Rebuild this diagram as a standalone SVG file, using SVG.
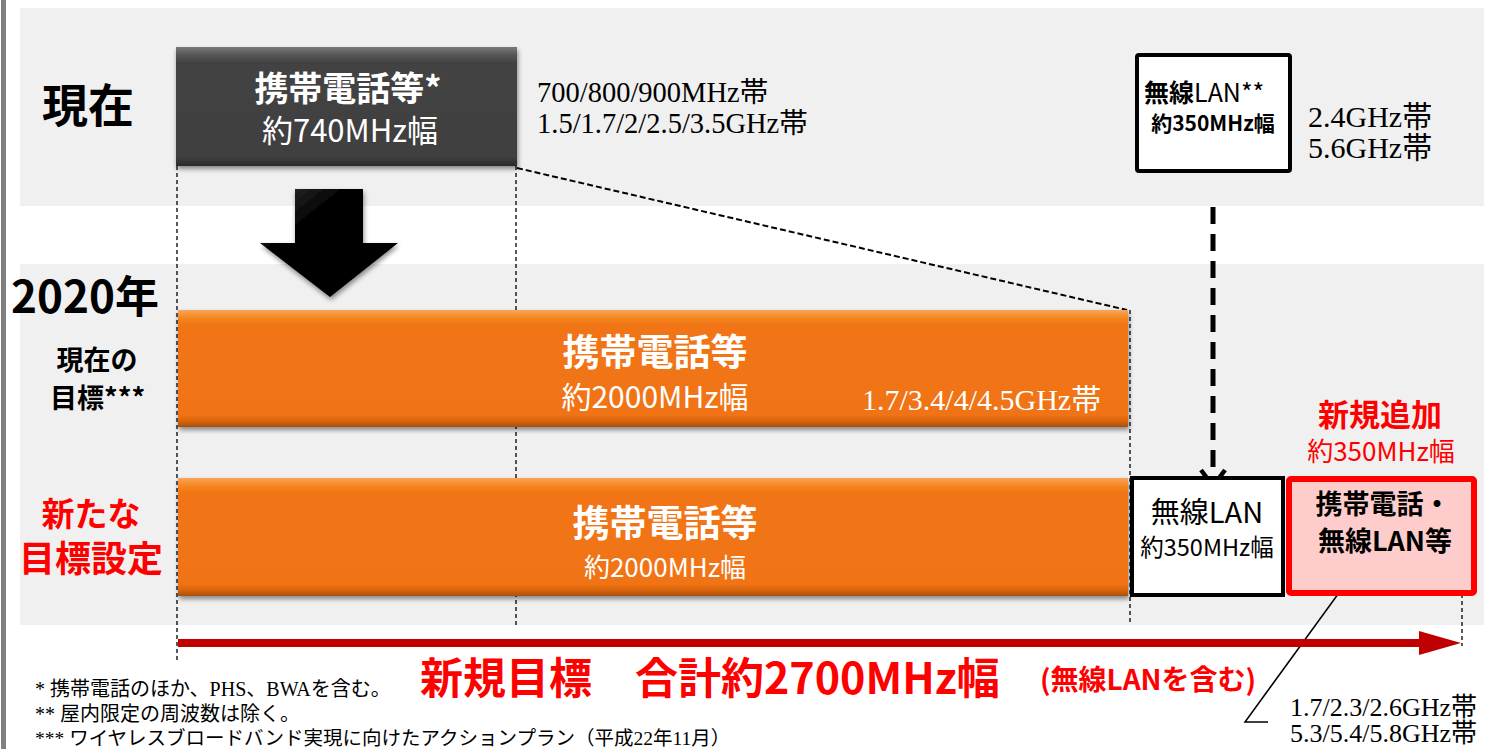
<svg xmlns="http://www.w3.org/2000/svg" width="1489" height="749" viewBox="0 0 1489 749">
<style>
.jp{font-family:"Noto Sans CJK JP","Noto Sans",sans-serif}
.b{font-weight:bold}
.sr{font-family:"Liberation Serif","Noto Sans CJK JP",serif}
.w{fill:#ffffff}
.k{fill:#000000}
.r{fill:#ff0000}
.dot{stroke:#000;stroke-width:1.3;stroke-dasharray:4 3;fill:none}
</style>
<defs>
<linearGradient id="og" x1="0" y1="0" x2="0" y2="1">
<stop offset="0" stop-color="#fba45a"/>
<stop offset="0.07" stop-color="#f4851f"/>
<stop offset="0.13" stop-color="#f17514"/>
<stop offset="0.9" stop-color="#f07312"/>
<stop offset="0.95" stop-color="#d8640f"/>
<stop offset="1" stop-color="#a9500e"/>
</linearGradient>
<linearGradient id="dg" x1="0" y1="0" x2="0" y2="1">
<stop offset="0" stop-color="#7a7a7a"/>
<stop offset="0.07" stop-color="#555555"/>
<stop offset="0.13" stop-color="#434343"/>
<stop offset="0.92" stop-color="#404040"/>
<stop offset="1" stop-color="#2a2a2a"/>
</linearGradient>
<linearGradient id="ag" x1="0" y1="0" x2="1" y2="1">
<stop offset="0" stop-color="#3a3a3a"/>
<stop offset="0.3" stop-color="#050505"/>
<stop offset="1" stop-color="#000000"/>
</linearGradient>
<filter id="sh" x="-5%" y="-10%" width="110%" height="130%">
<feGaussianBlur in="SourceAlpha" stdDeviation="2.5"/>
<feOffset dx="1" dy="3" result="b"/>
<feComponentTransfer><feFuncA type="linear" slope="0.45"/></feComponentTransfer>
<feMerge><feMergeNode/><feMergeNode in="SourceGraphic"/></feMerge>
</filter>
</defs>

<g id="background">
<rect x="0" y="0" width="1489" height="749" fill="#ffffff"/>
<rect x="1" y="0" width="5" height="749" fill="#7f7f7f"/>
<rect x="20" y="8" width="1464" height="198" fill="#f0f0f0"/>
<rect x="20" y="264" width="1464" height="361" fill="#f0f0f0"/>
</g>

<g id="row-labels">
<text class="jp b k" x="88" y="122" font-size="46" text-anchor="middle">現在</text>
<text class="jp b k" x="85" y="313" font-size="44" text-anchor="middle">2020年</text>
<text class="jp b k" x="97" y="370" font-size="27" text-anchor="middle">現在の</text>
<text class="jp b k" x="50" y="408" font-size="27">目標***</text>
<text class="jp b r" x="91" y="526" font-size="33" text-anchor="middle">新たな</text>
<text class="jp b r" x="91" y="572" font-size="36" text-anchor="middle">目標設定</text>
</g>

<g id="connectors">
<line class="dot" x1="177" y1="47" x2="177" y2="662"/>
<line class="dot" x1="516" y1="166" x2="516" y2="625"/>
<line class="dot" x1="1130" y1="310" x2="1130" y2="625"/>
<line class="dot" x1="1462" y1="594" x2="1462" y2="646"/>
<line x1="517" y1="168" x2="1127" y2="310" stroke="#000" stroke-width="2" stroke-dasharray="6 3"/>
<line x1="1213" y1="207" x2="1213" y2="482" stroke="#000" stroke-width="5" stroke-dasharray="17 10"/>
<polyline points="1201,470 1213,486 1225,470" fill="none" stroke="#000" stroke-width="4.5"/>
<polyline points="1349,579 1245,722 1268,722" fill="none" stroke="#000" stroke-width="1.5"/>
<line x1="178" y1="643" x2="1422" y2="643" stroke="#c00000" stroke-width="8"/>
<polygon points="1419,631 1461,643 1419,655" fill="#c00000"/>
</g>

<g id="arrow-down">
<polygon points="295,189 363,189 363,243 398,243 330,297 260,243 295,243" fill="url(#ag)" filter="url(#sh)"/>
</g>

<g id="node-current-mobile">
<rect x="176" y="47" width="341" height="119" fill="url(#dg)" filter="url(#sh)"/>
<text class="jp b w" x="348" y="101" font-size="34" text-anchor="middle">携帯電話等*</text>
<text class="jp w" x="350" y="142" font-size="31" text-anchor="middle">約740MHz幅</text>
</g>
<g id="label-current-bands">
<text class="sr k" x="537" y="102" font-size="28.5">700/800/900MHz帯</text>
<text class="sr k" x="537" y="133" font-size="28.5">1.5/1.7/2/2.5/3.5GHz帯</text>
</g>

<g id="node-current-wlan">
<rect x="1137" y="55" width="153" height="116" fill="#ffffff" stroke="#000" stroke-width="4" rx="2"/>
<text class="jp k" x="1144" y="102" font-size="25"><tspan class="b">無線</tspan>LAN**</text>
<text class="jp b k" x="1213" y="131" font-size="21" text-anchor="middle">約350MHz幅</text>
</g>
<g id="label-wlan-bands">
<text class="sr k" x="1308" y="127" font-size="30">2.4GHz帯</text>
<text class="sr k" x="1308" y="158" font-size="30">5.6GHz帯</text>
</g>

<g id="node-2020-target">
<rect x="178" y="310" width="950" height="117" fill="url(#og)" filter="url(#sh)"/>
<text class="jp b w" x="655" y="366" font-size="37" text-anchor="middle">携帯電話等</text>
<text class="jp w" x="655" y="408" font-size="30" text-anchor="middle">約2000MHz幅</text>
<text class="sr w" x="862" y="410" font-size="30">1.7/3.4/4/4.5GHz帯</text>
</g>

<g id="node-new-mobile">
<rect x="178" y="478" width="950" height="118" fill="url(#og)" filter="url(#sh)"/>
<text class="jp b w" x="665" y="537" font-size="37" text-anchor="middle">携帯電話等</text>
<text class="jp w" x="665" y="577" font-size="26" text-anchor="middle">約2000MHz幅</text>
</g>

<g id="node-new-wlan">
<rect x="1132" y="478" width="151" height="117" fill="#ffffff" stroke="#000" stroke-width="4"/>
<text class="jp k" x="1207" y="523" font-size="29" text-anchor="middle">無線LAN</text>
<text class="jp k" x="1207" y="556" font-size="23.5" text-anchor="middle">約350MHz幅</text>
</g>

<g id="node-new-addition">
<rect x="1289" y="479" width="185" height="114" fill="#ffcccc" stroke="#ff0000" stroke-width="6" rx="2"/>
<text class="jp b k" x="1383" y="514" font-size="27" text-anchor="middle">携帯電話・</text>
<text class="jp b k" x="1385" y="551" font-size="27" text-anchor="middle">無線LAN等</text>
<text class="jp b r" x="1380" y="426" font-size="31" text-anchor="middle">新規追加</text>
<text class="jp r" x="1381" y="461" font-size="26" text-anchor="middle">約350MHz幅</text>
</g>

<g id="label-total">
<text class="jp b r" x="420" y="694" font-size="43">新規目標　合計約2700MHz幅</text>
<text class="jp b r" x="1040" y="690" font-size="28">(無線LANを含む)</text>
</g>

<g id="label-new-bands">
<text class="sr k" x="1290" y="716" font-size="26">1.7/2.3/2.6GHz帯</text>
<text class="sr k" x="1290" y="742" font-size="26">5.3/5.4/5.8GHz帯</text>
</g>

<g id="footnotes">
<text class="sr k" x="35" y="696" font-size="20">*  携帯電話のほか、PHS、BWAを含む。</text>
<text class="sr k" x="35" y="721" font-size="20">** 屋内限定の周波数は除く。</text>
<text class="sr k" x="35" y="745" font-size="19.5">***  ワイヤレスブロードバンド実現に向けたアクションプラン（平成22年11月）</text>
</g>
</svg>
